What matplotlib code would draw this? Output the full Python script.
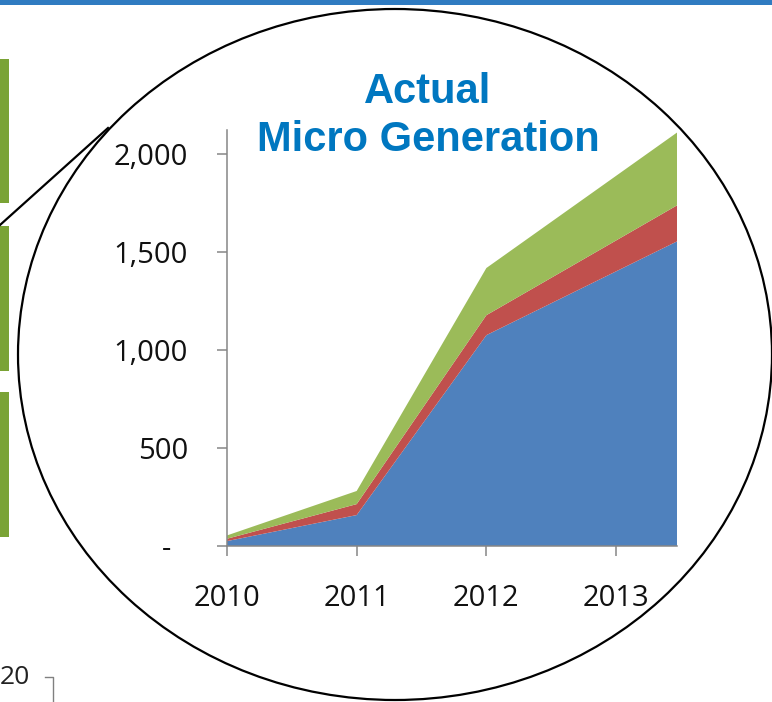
import matplotlib.pyplot as plt
import matplotlib.transforms as mtransforms
from matplotlib.patches import Ellipse, Rectangle
from matplotlib.lines import Line2D

W, H = 772, 702

# data
years = [2010, 2011, 2012, 2013.47]
blue_vals = [25, 158, 1077, 1556]
red_vals = [12, 56, 102, 184]
green_vals = [17, 67, 241, 372]
series_colors = ['#4F81BD', '#C0504D', '#9BBB59']
xtick_vals = [2010, 2011, 2012, 2013]
xtick_labels = ['2010', '2011', '2012', '2013']
ytick_vals = [0, 500, 1000, 1500, 2000]
ytick_labels = ['-', '500', '1,000', '1,500', '2,000']
title = 'Actual\nMicro Generation'


def fx(px):
    return px / W


def fy(py):
    return 1 - py / H


fig = plt.figure(figsize=(W / 100, H / 100), dpi=100)
fig.patch.set_facecolor('white')

# chart area
ax = fig.add_axes([fx(227), fy(546), fx(677) - fx(227), fy(130) - fy(546)])
ax.stackplot(years, blue_vals, red_vals, green_vals, colors=series_colors, lw=0)
ax.set_xlim(2010, 2013.47)
ax.set_ylim(0, 2125)

grey = '#868686'
for s in ['top', 'right']:
    ax.spines[s].set_visible(False)
for s in ['left', 'bottom']:
    ax.spines[s].set_color(grey)
    ax.spines[s].set_linewidth(1.1)

tick_font = dict(family='Open Sans', size=21)
ax.set_xticks(xtick_vals)
ax.set_xticklabels(xtick_labels, **tick_font)
ax.set_yticks(ytick_vals)
ax.set_yticklabels(ytick_labels, **tick_font)
ax.tick_params(axis='both', direction='out', length=7.2, width=1.1, color=grey, labelcolor='#111111')
ax.tick_params(axis='y', pad=21)
ax.tick_params(axis='x', pad=20)

# the zero label sits further left (accounting format)
zero_lbl = ax.get_yticklabels()[0]
zero_lbl.set_transform(zero_lbl.get_transform() + mtransforms.ScaledTranslation(-0.17, 0, fig.dpi_scale_trans))

fig.text(fx(428), fy(116), title, ha='center', va='center', color='#0077C0',
         family='Liberation Sans', weight='bold', size=30, linespacing=1.25)

# slide decorations
fig.add_artist(Rectangle((0, fy(5)), 1, fy(0) - fy(5), transform=fig.transFigure,
                         color='#2F7BC1', lw=0))
for top, bot in [(59, 203), (226, 371), (392, 537)]:
    fig.add_artist(Rectangle((0, fy(bot)), fx(9), fy(top) - fy(bot), transform=fig.transFigure,
                             color='#7AA335', lw=0))

fig.add_artist(Ellipse((fx(395), fy(354.5)), fx(754), 691 / H, transform=fig.transFigure,
                       fill=False, edgecolor='black', lw=1.6, zorder=10))
fig.add_artist(Line2D([0, fx(108)], [fy(225), fy(128)], transform=fig.transFigure,
                      color='black', lw=1.6))

fig.text(0, fy(677), '20', ha='left', va='center', family='Open Sans', size=19, color='#222222')
fig.add_artist(Line2D([fx(45), fx(53), fx(53)], [fy(677), fy(677), fy(702)],
                      transform=fig.transFigure, color='#808080', lw=1.0))

fig.savefig('out.png', dpi=100)
